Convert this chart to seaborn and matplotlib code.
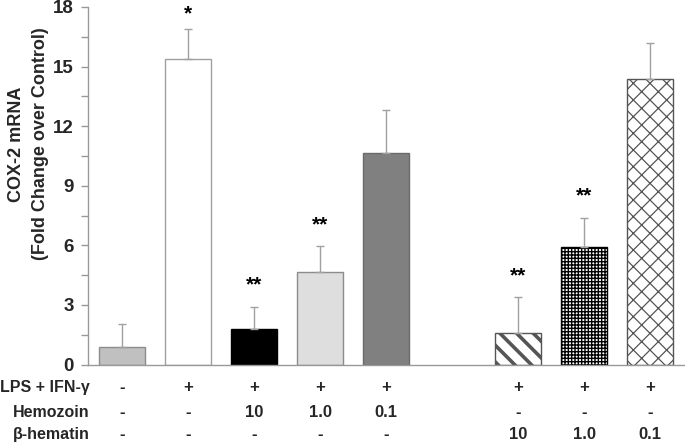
import numpy as np
import pandas as pd
import matplotlib
matplotlib.use("Agg")
import matplotlib.pyplot as plt
import seaborn as sns

# bar data (fold change over control) and upper error
groups = ["ctrl", "lps", "hz10", "hz1", "hz01", "bh10", "bh1", "bh01"]
positions = [0, 1, 2, 3, 4, 6, 7, 8]
means = [0.9, 15.4, 1.78, 4.65, 10.65, 1.58, 5.9, 14.35]
errors = [1.15, 1.5, 1.12, 1.3, 2.15, 1.8, 1.5, 1.85]
stars = ["", "*", "**", "**", "", "**", "**", ""]

# table below the bars
row_labels = ["LPS + IFN-\u03b3", "Hemozoin", "\u03b2-hematin"]
lps_row = ["-", "+", "+", "+", "+", "+", "+", "+"]
hz_row = ["-", "-", "10", "1.0", "0.1", "-", "-", "-"]
bh_row = ["-", "-", "-", "-", "-", "10", "1.0", "0.1"]

face_colors = ["#c0c0c0", "#ffffff", "#000000", "#dedede", "#808080",
               "#ffffff", "#ffffff", "#ffffff"]
edge_colors = ["#8c8c8c", "#a0a0a0", "#000000", "#8c8c8c", "#6a6a6a",
               "#555555", "#000000", "#555555"]
hatches = [None, None, None, None, None, "\\\\", "+++++", "xx"]
hatch_lw = [1, 1, 1, 1, 1, 2.6, 1.0, 0.9]

sns.set_style("white")
plt.rcParams['font.family'] = ['Liberation Sans', 'DejaVu Sans']
plt.rcParams['font.weight'] = 'bold'
plt.rcParams['hatch.linewidth'] = 1.0

fig = plt.figure(figsize=(6.85, 4.46), dpi=100)
ax = fig.add_axes([88/685, 1-364.5/446, 1-88/685, 357.5/446])

df = pd.DataFrame({"pos": positions, "mean": means, "group": groups})
sns.barplot(data=df, x="pos", y="mean", hue="group", palette=face_colors,
            native_scale=True, width=0.71, legend=False, ax=ax,
            linewidth=1, edgecolor="#888888")

patches = [c.patches[0] for c in ax.containers]
for p, fc, ec, h, hl in zip(patches, face_colors, edge_colors, hatches, hatch_lw):
    p.set_facecolor(fc)
    p.set_edgecolor(ec)
    if h:
        p.set_hatch(h)
        if hasattr(p, "set_hatch_linewidth"):
            p.set_hatch_linewidth(hl)

ax.errorbar(positions, means, yerr=[np.zeros(len(means)), errors], fmt="none",
            ecolor="#a0a0a0", elinewidth=1, capsize=3, capthick=1)

for x, m, e, s in zip(positions, means, errors, stars):
    if s:
        off = 1.1 if len(s) == 2 else 0.75
        ax.text(x, m + e + off, s, ha="center", va="center", fontsize=15,
                fontweight="bold", color="black", clip_on=False)

ax.set_ylim(0, 18)
ax.set_xlim(-0.515, 8.53)
ax.set_yticks(np.arange(0, 19, 3))
ax.set_yticks(np.arange(1.5, 18, 3), minor=True)
ax.tick_params(axis="y", which="both", direction="out", length=5, width=1,
               color="#999999", left=True, labelsize=13.5, pad=5)
for lab in ax.get_yticklabels():
    lab.set_fontweight("bold")
ax.set_xticks([])
ax.set_xlabel("")
ax.set_ylabel("")
for side in ["top", "right"]:
    ax.spines[side].set_visible(False)
for side in ["left", "bottom"]:
    ax.spines[side].set_color("#999999")
    ax.spines[side].set_linewidth(1)

fig.text(28.5/685, 1-144/446, "COX-2 mRNA\n(Fold Change over Control)",
         rotation=90, ha="center", va="center", fontsize=13,
         fontweight="bold", linespacing=1.5)

# condition table
trans = ax.get_xaxis_transform()
row_y = [-0.063, -0.133, -0.197]
for yy, lab, row in zip(row_y, row_labels, [lps_row, hz_row, bh_row]):
    fig.text(90/685, (1-364.5/446) + yy*357.5/446, lab, ha="right", va="center",
             fontsize=11.5, fontweight="bold")
    for x, v in zip(positions, row):
        ax.text(x, yy, v, transform=trans, ha="center", va="center",
                fontsize=12, fontweight="bold", clip_on=False)

fig.savefig("out.png", dpi=100)
